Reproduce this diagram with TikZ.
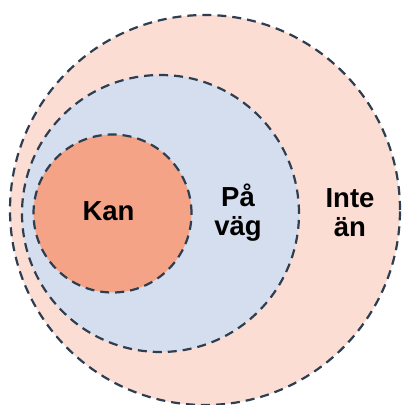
\documentclass[tikz,border=0pt]{standalone}
\usepackage{fontspec}
\setmainfont{Liberation Sans}
\definecolor{outerfill}{HTML}{FCDDD4}
\definecolor{midfill}{HTML}{D5DEEE}
\definecolor{innerfill}{HTML}{F4A386}
\definecolor{ringline}{HTML}{2C3E50}
\tikzset{
  ring/.style={circle, draw=ringline, line width=2.2pt, dash pattern=on 9pt off 6pt, inner sep=0pt, outer sep=0pt},
  lbl/.style={font=\bfseries\fontsize{27.5}{29}\selectfont, align=center, text=black, inner sep=0pt}
}
\begin{document}
\begin{tikzpicture}[x=1pt,y=-1pt]
\useasboundingbox (0,0) rectangle (402,405);
\node[ring, fill=outerfill, minimum size=390pt] (outer) at (205,210) {};
\node[ring, fill=midfill, minimum size=277pt] (mid) at (160.5,213.5) {};
\node[ring, fill=innerfill, minimum size=158pt] (inner) at (112.5,213.5) {};
\node[lbl] (kan) at (108.5,211) {Kan};
\node[lbl] (pavag) at (238,213) {På\\väg};
\node[lbl] (inte) at (350,213) {Inte\\än};
\end{tikzpicture}
\end{document}
